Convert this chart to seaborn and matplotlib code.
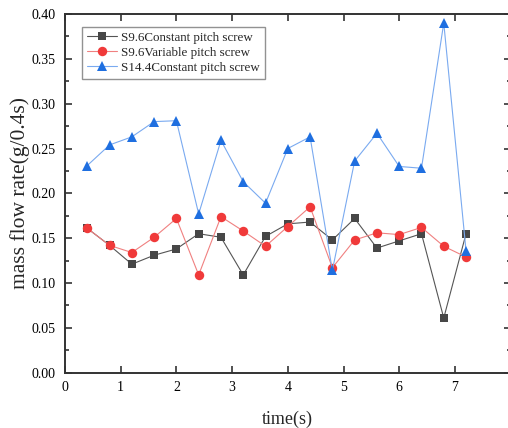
import matplotlib
matplotlib.use("Agg")
import matplotlib.pyplot as plt
import seaborn as sns
import pandas as pd
from matplotlib.ticker import MultipleLocator

time_s = [0.4, 0.8, 1.2, 1.6, 2.0, 2.4, 2.8, 3.2, 3.6, 4.0, 4.4, 4.8, 5.2, 5.6, 6.0, 6.4, 6.8, 7.2]
s96_constant = [0.161, 0.142, 0.121, 0.131, 0.138, 0.155, 0.151, 0.109, 0.152, 0.166, 0.168, 0.148,
                0.172, 0.139, 0.147, 0.155, 0.061, 0.155]
s96_variable = [0.161, 0.142, 0.134, 0.151, 0.172, 0.109, 0.174, 0.158, 0.141, 0.163, 0.185, 0.117,
                0.148, 0.156, 0.154, 0.162, 0.141, 0.129]
s144_constant = [0.231, 0.254, 0.263, 0.280, 0.281, 0.177, 0.259, 0.213, 0.189, 0.250, 0.263, 0.114,
                 0.236, 0.267, 0.230, 0.228, 0.390, 0.136]
series_names = ["S9.6Constant pitch screw", "S9.6Variable pitch screw", "S14.4Constant pitch screw"]

sns.set_theme(style="ticks")
plt.rcParams["font.family"] = ["Liberation Serif", "DejaVu Serif"]

fig = plt.figure(figsize=(5.08, 4.28), dpi=100)
W, H = 508, 428
ax = fig.add_axes([65 / W, 1 - 372.7 / H, (510.6 - 65) / W, (372.7 - 14) / H])

styles = [
    dict(color="#474747", line="#555555", marker="s", ms=6.0),
    dict(color="#f03a3a", line="#f08080", marker="o", ms=6.8),
    dict(color="#1f6fe0", line="#7aaaf0", marker="^", ms=7.5),
]
values = [s96_constant, s96_variable, s144_constant]

for name, vals, st in zip(series_names, values, styles):
    df = pd.DataFrame({"time": time_s, "rate": vals})
    sns.lineplot(data=df, x="time", y="rate", ax=ax, color=st["line"], lw=0.8,
                 marker=st["marker"], markersize=st["ms"], markerfacecolor=st["color"],
                 markeredgecolor=st["color"], markeredgewidth=0, label=name)

ax.set_xlim(0, 8)
ax.set_ylim(0, 0.40)
ax.xaxis.set_major_locator(MultipleLocator(1))
ax.yaxis.set_major_locator(MultipleLocator(0.05))
ax.yaxis.set_minor_locator(MultipleLocator(0.025))
ax.tick_params(which="both", direction="in", top=True, right=True, colors="#333333",
               labelcolor="black", labelsize=10, width=1.2)
ax.tick_params(which="major", length=5)
ax.tick_params(which="minor", length=3)
ax.tick_params(axis="x", pad=6)
ax.tick_params(axis="y", pad=7)
ax.set_yticks([i * 0.05 for i in range(9)])
ax.set_yticklabels([f"{i * 0.05:.2f}" for i in range(9)])
ax.set_xticks(range(0, 9))
ax.set_xticklabels([str(i) for i in range(0, 9)])
for sp in ax.spines.values():
    sp.set_linewidth(1.4)
    sp.set_color("#333333")

ax.set_xlabel("time(s)", fontsize=13, labelpad=12)
ax.set_ylabel("mass flow rate(g/0.4s)", fontsize=15.5, labelpad=1)

leg = ax.legend(loc="upper left", bbox_to_anchor=(0.038, 0.965), fontsize=9.4, frameon=True,
                fancybox=False, edgecolor="#777777", handlelength=2.3, borderpad=0.4,
                labelspacing=0.22, handletextpad=0.3, borderaxespad=0)
leg.get_frame().set_linewidth(1.0)

fig.savefig("out.png", dpi=100)
